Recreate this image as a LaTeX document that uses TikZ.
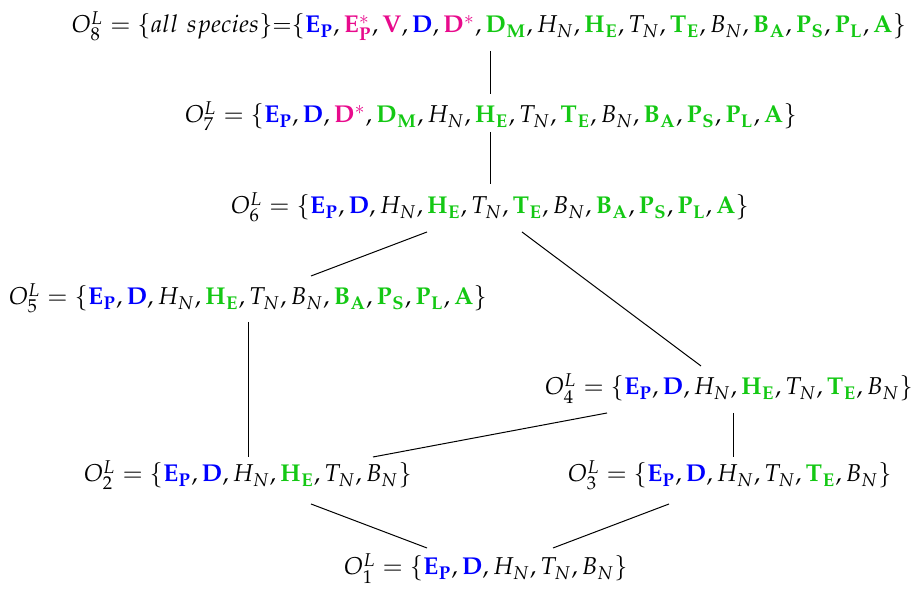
\documentclass[tikz,border=0pt]{standalone}
\usepackage{mathpazo}
\usepackage{xcolor}
\definecolor{myblue}{RGB}{0,0,255}
\definecolor{mypink}{RGB}{232,10,140}
\definecolor{mygreen}{RGB}{20,200,20}
\newcommand{\cbl}[1]{\textcolor{myblue}{\mathbf{#1}}}
\newcommand{\cpk}[1]{\textcolor{mypink}{#1}}
\newcommand{\cgr}[1]{\textcolor{mygreen}{\mathbf{#1}}}
\begin{document}
\begin{tikzpicture}[x=0.4pt,y=-0.4pt,
  setnode/.style={anchor=base,inner sep=0pt,font=\fontsize{9.75}{12}\selectfont},
  link/.style={draw=black,line width=0.4pt}]
\useasboundingbox (0,0) rectangle (914,590);
\node[setnode] (O8) at (489,33) {$O_8^L = \{all\ species\}$=$\{\cbl{E_P}, \cpk{\mathbf{E}^*_{\mathbf{P}}}, \cpk{\mathbf{V}}, \cbl{D}, \cpk{\mathbf{D}^*}, \cgr{D_M}, H_N, \cgr{H_E}, T_N, \cgr{T_E}, B_N, \cgr{B_A}, \cgr{P_S}, \cgr{P_L}, \cgr{A}\}$};
\node[setnode] (O7) at (491,123) {$O_7^L = \{\cbl{E_P}, \cbl{D}, \cpk{\mathbf{D}^*}, \cgr{D_M}, H_N, \cgr{H_E}, T_N, \cgr{T_E}, B_N, \cgr{B_A}, \cgr{P_S}, \cgr{P_L}, \cgr{A}\}$};
\node[setnode] (O6) at (490,214) {$O_6^L = \{\cbl{E_P}, \cbl{D}, H_N, \cgr{H_E}, T_N, \cgr{T_E}, B_N, \cgr{B_A}, \cgr{P_S}, \cgr{P_L}, \cgr{A}\}$};
\node[setnode] (O5) at (248,305) {$O_5^L = \{\cbl{E_P}, \cbl{D}, H_N, \cgr{H_E}, T_N, B_N, \cgr{B_A}, \cgr{P_S}, \cgr{P_L}, \cgr{A}\}$};
\node[setnode] (O4) at (729,395) {$O_4^L = \{\cbl{E_P}, \cbl{D}, H_N, \cgr{H_E}, T_N, \cgr{T_E}, B_N\}$};
\node[setnode] (O2) at (248,482) {$O_2^L = \{\cbl{E_P}, \cbl{D}, H_N, \cgr{H_E}, T_N, B_N\}$};
\node[setnode] (O3) at (730,482) {$O_3^L = \{\cbl{E_P}, \cbl{D}, H_N, T_N, \cgr{T_E}, B_N\}$};
\node[setnode] (O1) at (486,575) {$O_1^L = \{\cbl{E_P}, \cbl{D}, H_N, T_N, B_N\}$};
\draw[link] ([shift={(1,18)}]O8.base) -- ([shift={(-1,-29)}]O7.base);
\draw[link] ([shift={(-1,9)}]O7.base) -- ([shift={(0,-30)}]O6.base);
\draw[link] ([shift={(-63,18)}]O6.base) -- ([shift={(63,-29)}]O5.base);
\draw[link] ([shift={(32,18)}]O6.base) -- ([shift={(-28,-29)}]O4.base);
\draw[link] ([shift={(0,17)}]O5.base) -- ([shift={(0,-25)}]O2.base);
\draw[link] ([shift={(-122,18)}]O4.base) -- ([shift={(125,-25)}]O2.base);
\draw[link] ([shift={(4,18)}]O4.base) -- ([shift={(3,-25)}]O3.base);
\draw[link] ([shift={(63,22)}]O2.base) -- ([shift={(-59,-27)}]O1.base);
\draw[link] ([shift={(-61,22)}]O3.base) -- ([shift={(67,-27)}]O1.base);
\end{tikzpicture}
\end{document}
